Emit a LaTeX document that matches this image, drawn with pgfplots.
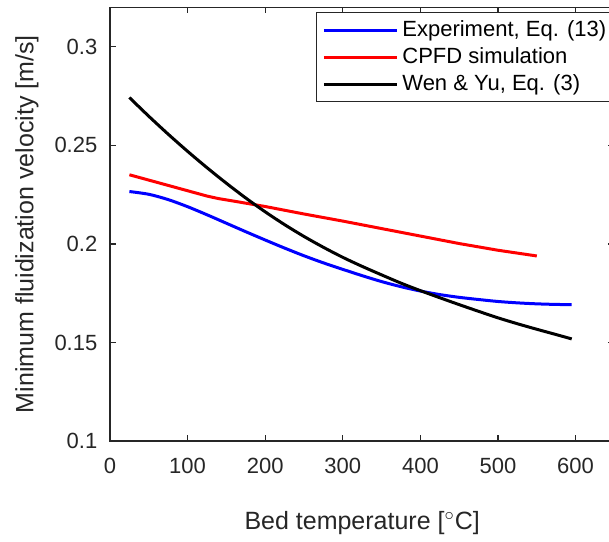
\documentclass[border=0pt]{standalone}
\usepackage{fontspec}
\setmainfont{Liberation Sans}
\usepackage{pgfplots}
\pgfplotsset{compat=1.18}
\usetikzlibrary{calc}
\definecolor{axgray}{HTML}{262626}
\begin{document}
\begin{tikzpicture}
\begin{axis}[
  scale only axis, width=252.2pt, height=216.75pt,
  xmin=0, xmax=650, ymin=0.1, ymax=0.32,
  xtick={0,100,200,300,400,500,600},
  ytick={0.1,0.15,0.2,0.25,0.3},
  tick align=inside, major tick length=3pt,
  axis line style={axgray, line width=0.6pt},
  every tick/.style={axgray, line width=0.6pt},
  /pgf/number format/assume math mode=true,
  ticklabel style={font=\fontsize{11}{13}\selectfont, text=axgray},
  xticklabel style={yshift=-4.8pt},
  yticklabel style={xshift=-2.8pt, /pgf/number format/fixed, /pgf/number format/precision=2},
  xlabel={Bed temperature [$^\circ$C]},
  ylabel={Minimum fluidization velocity [m/s]},
  xlabel style={font=\fontsize{12.5}{15}\selectfont, text=axgray, at={(axis description cs:0.5,-0.189)}, anchor=center},
  ylabel style={font=\fontsize{12.5}{15}\selectfont, text=axgray, at={(axis description cs:-0.1646,0.5)}, anchor=center},
  legend style={at={(axis description cs:0.4084,0.989)}, anchor=north west, draw=axgray, line width=0.4pt,
    font=\fontsize{11}{13}\selectfont, text=black, fill=white},
  legend cell align=left,
  legend image code/.code={\draw[#1] (0pt,0pt) -- (36.5pt,0pt);},
]
\addplot[blue, line width=1.5pt, smooth] coordinates {
(25,0.2266) (50,0.2252) (75,0.2225) (100,0.2189) (125,0.2148) (150,0.2105) (175,0.2062) (200,0.2020)
(225,0.1979) (250,0.1940) (275,0.1904) (300,0.1871) (325,0.1839) (350,0.1809) (375,0.1783) (400,0.1761)
(425,0.1743) (450,0.1729) (475,0.1718) (500,0.1708) (525,0.1701) (550,0.1696) (575,0.1693) (595,0.1692)};
\addlegendentry{Experiment, Eq. (13)}
\addplot[red, line width=1.5pt] coordinates {
(25,0.2351) (50,0.2324) (75,0.2297) (100,0.2270) (125,0.2243) (140,0.2230) (160,0.2217) (200,0.2190) (250,0.2152)
(300,0.2116) (350,0.2078) (400,0.2040) (450,0.2002) (500,0.1968) (550,0.1939)};
\addlegendentry{CPFD simulation}
\addplot[black, line width=1.5pt, smooth] coordinates {
(25,0.2743) (50,0.2648) (75,0.2557) (100,0.2470) (125,0.2387) (150,0.2308) (175,0.2233) (200,0.2163)
(225,0.2098) (250,0.2038) (275,0.1983) (300,0.1932) (325,0.1886) (350,0.1843) (375,0.1801) (400,0.1763)
(425,0.1727) (450,0.1692) (475,0.1658) (500,0.1625) (525,0.1595) (550,0.1567) (575,0.1540) (595,0.1518)};
\addlegendentry{Wen \& Yu, Eq. (3)}
\end{axis}
\pgfresetboundingbox
\path[use as bounding box] ($(current axis.south west)+(-55pt,-50.5pt)$) rectangle ($(current axis.north west)+(249.5pt,3.75pt)$);
\end{tikzpicture}
\end{document}
